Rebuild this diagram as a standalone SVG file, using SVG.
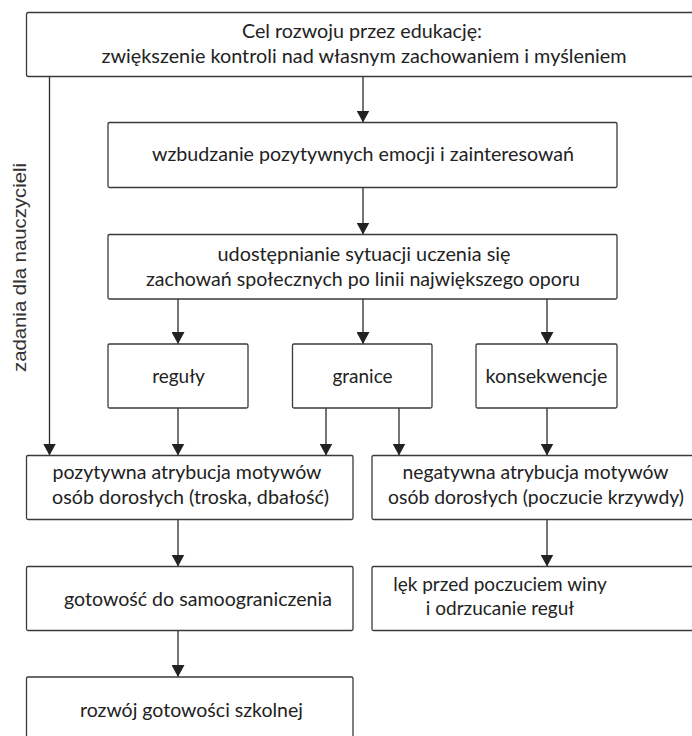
<svg xmlns="http://www.w3.org/2000/svg" width="692" height="736" viewBox="0 0 692 736">
  <style>
    .box { fill: #ffffff; stroke: #3a3a3a; stroke-width: 1.3; }
    .lbl { font-family: "Lato", "Liberation Sans", sans-serif; font-size: 19px; fill: #222222; text-anchor: middle; }
    .side { font-family: "Liberation Sans", "Noto Sans", sans-serif; font-size: 19px; fill: #333333; text-anchor: middle; }
    .conn { fill: none; stroke: #2a2a2a; stroke-width: 1.3; }
  </style>
  <defs>
    <marker id="arrow" markerUnits="userSpaceOnUse" markerWidth="13" markerHeight="13" refX="12" refY="6.5" orient="auto">
      <path d="M0,0 L12,6.5 L0,13 z" fill="#222222"/>
    </marker>
  </defs>

  <rect width="692" height="736" fill="#ffffff"/>

  <!-- connectors -->
  <g id="connectors">
    <line class="conn" x1="49.5" y1="76.5" x2="49.5" y2="455.5" marker-end="url(#arrow)"/>
    <line class="conn" x1="363" y1="76.5" x2="363" y2="122.5" marker-end="url(#arrow)"/>
    <line class="conn" x1="363" y1="187.5" x2="363" y2="234.5" marker-end="url(#arrow)"/>
    <line class="conn" x1="178" y1="299" x2="178" y2="344" marker-end="url(#arrow)"/>
    <line class="conn" x1="363" y1="299" x2="363" y2="344" marker-end="url(#arrow)"/>
    <line class="conn" x1="547" y1="299" x2="547" y2="344" marker-end="url(#arrow)"/>
    <line class="conn" x1="178" y1="408" x2="178" y2="455.5" marker-end="url(#arrow)"/>
    <line class="conn" x1="326" y1="408" x2="326" y2="455.5" marker-end="url(#arrow)"/>
    <line class="conn" x1="399" y1="408" x2="399" y2="455.5" marker-end="url(#arrow)"/>
    <line class="conn" x1="547" y1="408" x2="547" y2="455.5" marker-end="url(#arrow)"/>
    <line class="conn" x1="178" y1="519.5" x2="178" y2="566.5" marker-end="url(#arrow)"/>
    <line class="conn" x1="547" y1="519.5" x2="547" y2="566.5" marker-end="url(#arrow)"/>
    <line class="conn" x1="178" y1="630.5" x2="178" y2="677" marker-end="url(#arrow)"/>
  </g>

  <!-- side label along the left connector -->
  <text class="side" transform="translate(26,267.5) rotate(-90)" x="0" y="0" textLength="209" lengthAdjust="spacingAndGlyphs">zadania dla nauczycieli</text>

  <!-- nodes -->
  <g id="goal">
    <rect class="box" x="26.5" y="12.5" width="675" height="64" rx="2"/>
    <text class="lbl" x="362" y="38" textLength="240" lengthAdjust="spacingAndGlyphs">Cel rozwoju przez edukację:</text>
    <text class="lbl" x="364" y="63" textLength="525" lengthAdjust="spacingAndGlyphs">zwiększenie kontroli nad własnym zachowaniem i myśleniem</text>
  </g>
  <g id="emotions">
    <rect class="box" x="108" y="122.5" width="509" height="65" rx="1.5"/>
    <text class="lbl" x="363" y="161" textLength="422" lengthAdjust="spacingAndGlyphs">wzbudzanie pozytywnych emocji i zainteresowań</text>
  </g>
  <g id="situations">
    <rect class="box" x="108" y="234.5" width="509" height="64.5" rx="1.5"/>
    <text class="lbl" x="364" y="261" textLength="293" lengthAdjust="spacingAndGlyphs">udostępnianie sytuacji uczenia się</text>
    <text class="lbl" x="363" y="286" textLength="434" lengthAdjust="spacingAndGlyphs">zachowań społecznych po linii największego oporu</text>
  </g>
  <g id="rules">
    <rect class="box" x="108" y="344" width="140" height="64" rx="1.5"/>
    <text class="lbl" x="178.5" y="383">reguły</text>
  </g>
  <g id="limits">
    <rect class="box" x="292.5" y="344" width="139.5" height="64" rx="1.5"/>
    <text class="lbl" x="362.5" y="383">granice</text>
  </g>
  <g id="consequences">
    <rect class="box" x="476" y="344" width="141" height="64" rx="1.5"/>
    <text class="lbl" x="546.5" y="383" textLength="122" lengthAdjust="spacingAndGlyphs">konsekwencje</text>
  </g>
  <g id="positive">
    <rect class="box" x="26.5" y="455.5" width="326.5" height="64" rx="1.5"/>
    <text class="lbl" x="187" y="479" textLength="269" lengthAdjust="spacingAndGlyphs">pozytywna atrybucja motywów</text>
    <text class="lbl" x="190.5" y="504" textLength="277" lengthAdjust="spacingAndGlyphs">osób dorosłych (troska, dbałość)</text>
  </g>
  <g id="negative">
    <rect class="box" x="372" y="455.5" width="330" height="64" rx="1.5"/>
    <text class="lbl" x="535.5" y="479" textLength="266" lengthAdjust="spacingAndGlyphs">negatywna atrybucja motywów</text>
    <text class="lbl" x="536" y="504" textLength="296" lengthAdjust="spacingAndGlyphs">osób dorosłych (poczucie krzywdy)</text>
  </g>
  <g id="self-limit">
    <rect class="box" x="26.5" y="566.5" width="326.5" height="64" rx="1.5"/>
    <text class="lbl" x="198" y="606" textLength="268" lengthAdjust="spacingAndGlyphs">gotowość do samoograniczenia</text>
  </g>
  <g id="guilt">
    <rect class="box" x="372" y="566.5" width="330" height="64" rx="1.5"/>
    <text class="lbl" x="500" y="591">lęk przed poczuciem winy</text>
    <text class="lbl" x="500" y="615">i odrzucanie reguł</text>
  </g>
  <g id="school-readiness">
    <rect class="box" x="26.5" y="677" width="326.5" height="75" rx="1.5"/>
    <text class="lbl" x="191.5" y="717" textLength="223" lengthAdjust="spacingAndGlyphs">rozwój gotowości szkolnej</text>
  </g>
</svg>
